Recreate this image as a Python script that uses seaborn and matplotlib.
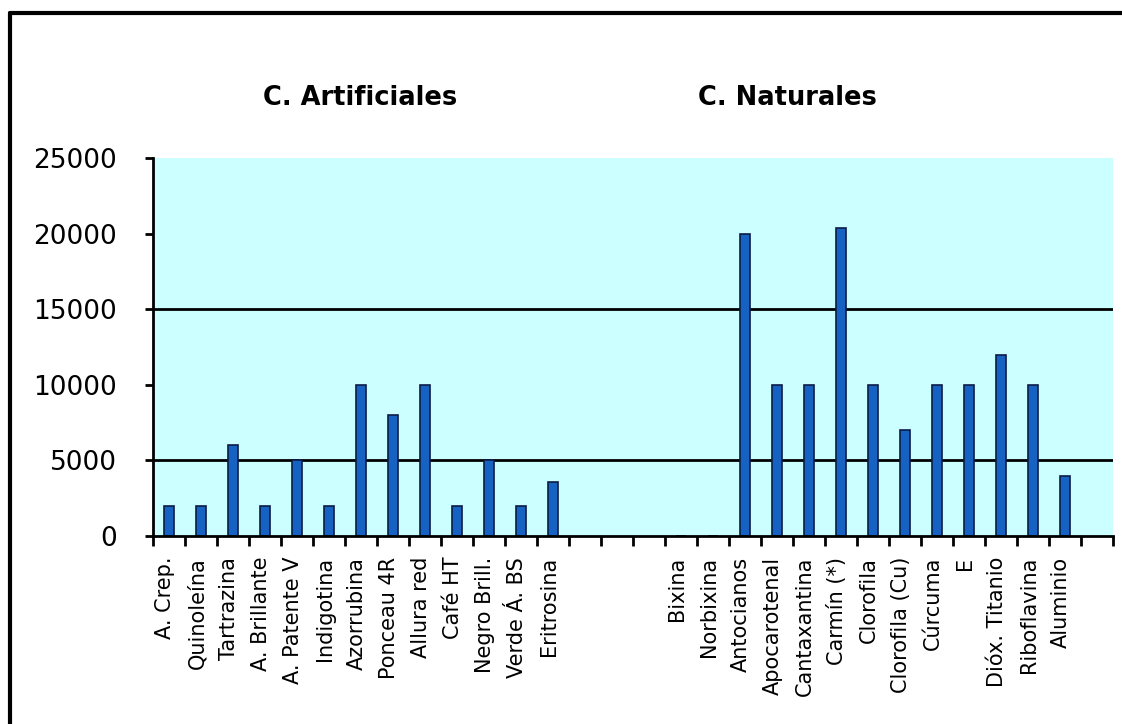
import numpy as np
import pandas as pd
import matplotlib
matplotlib.use("Agg")
import matplotlib.pyplot as plt
from matplotlib.lines import Line2D
from matplotlib.transforms import ScaledTranslation
import seaborn as sns

# Colorantes artificiales y naturales con su valor
artificiales = ["A. Crep.", "Quinoleína", "Tartrazina", "A. Brillante", "A. Patente V",
                "Indigotina", "Azorrubina", "Ponceau 4R", "Allura red", "Café HT",
                "Negro Brill.", "Verde Á. BS", "Eritrosina"]
valores_artificiales = [2000, 2000, 6000, 2000, 5000, 2000, 10000, 8000, 10000, 2000,
                        5000, 2000, 3600]

naturales = ["Bixina", "Norbixina", "Antocianos", "Apocarotenal", "Cantaxantina",
             "Carmín (*)", "Clorofila", "Clorofila (Cu)", "Cúrcuma", "E",
             "Dióx. Titanio", "Riboflavina", "Aluminio"]
valores_naturales = [0, 0, 20000, 10000, 10000, 20400, 10000, 7000, 10000, 10000,
                     12000, 10000, 4000]

titulos = ["C. Artificiales", "C. Naturales"]
y_ticks = [0, 5000, 10000, 15000, 20000, 25000]
y_grid = [5000, 15000]

# Empty slots separating the two groups and closing the axis
huecos_medio = ["_h1", "_h2", "_h3"]
huecos_final = ["_h4"]
orden = artificiales + huecos_medio + naturales + huecos_final

df = pd.DataFrame({
    "colorante": artificiales + naturales,
    "valor": valores_artificiales + valores_naturales,
})

sns.set_theme(style="white")
plt.rcParams["font.family"] = ["DejaVu Sans"]

fig = plt.figure(figsize=(11.22, 7.24), dpi=100)
fig.patch.set_facecolor("white")
ax = fig.add_axes([153 / 1122, 1 - 536 / 724, 960 / 1122, 378 / 724])
ax.set_facecolor("#CCFFFF")

sns.barplot(data=df, x="colorante", y="valor", order=orden, ax=ax,
            color="#1562C2", saturation=1, width=0.3,
            edgecolor="#0B1C44", linewidth=1.2, errorbar=None)

ax.set_xlim(-0.5, len(orden) - 0.5)
ax.set_ylim(0, 25000)
ax.set_xlabel("")
ax.set_ylabel("")

for g in y_grid:
    ax.axhline(g, color="black", lw=2, zorder=0.5)

# Category labels at centres, tick marks at the boundaries
etiquetas = ["" if o.startswith("_h") else o for o in orden]
ax.set_xticks(np.arange(len(orden)))
ax.set_xticklabels(etiquetas, rotation=90, fontsize=15, color="black")
ax.set_xticks(np.arange(len(orden) + 1) - 0.5, minor=True)
ax.tick_params(axis="x", which="major", length=0, pad=15)
ax.tick_params(axis="x", which="minor", length=7, width=2, color="black",
               direction="out", bottom=True)
shift = ScaledTranslation(-4 / 100, 0, fig.dpi_scale_trans)
for lbl in ax.get_xticklabels():
    lbl.set_transform(lbl.get_transform() + shift)

ax.set_yticks(y_ticks)
ax.set_yticklabels([str(v) for v in y_ticks], fontsize=19, color="black")
ax.tick_params(axis="y", length=6, width=2, color="black", direction="out",
               left=True, pad=20)

for side in ["top", "right"]:
    ax.spines[side].set_visible(False)
for side in ["left", "bottom"]:
    ax.spines[side].set_visible(True)
    ax.spines[side].set_color("black")
    ax.spines[side].set_linewidth(2)

fig.text(360 / 1122, 1 - 98 / 724, titulos[0], ha="center", va="center",
         fontsize=18.5, fontweight="bold", color="black")
fig.text(787 / 1122, 1 - 98 / 724, titulos[1], ha="center", va="center",
         fontsize=18.5, fontweight="bold", color="black")

# Chart frame (left and top edges)
fig.add_artist(Line2D([10 / 1122, 10 / 1122], [0, 1 - 13 / 724],
                      transform=fig.transFigure, color="black", lw=3))
fig.add_artist(Line2D([10 / 1122, 1], [1 - 13 / 724, 1 - 13 / 724],
                      transform=fig.transFigure, color="black", lw=3))

fig.savefig("out.png", dpi=100, facecolor="white")
